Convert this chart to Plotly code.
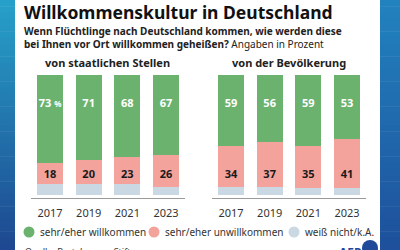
import plotly.graph_objects as go

W, H = 400, 250
years = ["2017", "2019", "2021", "2023"]
staat_willk = [73, 71, 68, 67]
staat_unwillk = [18, 20, 23, 26]
staat_wn = [9, 9, 9, 7]
bev_willk = [59, 56, 59, 53]
bev_unwillk = [34, 37, 35, 41]
bev_wn = [7, 7, 6, 6]
series_names = ["sehr/eher willkommen", "sehr/eher unwillkommen", "weiß nicht/k.A."]
panel_titles = ["von staatlichen Stellen", "von der Bevölkerung"]

GREEN = "#6bb26f"
RED = "#f4a39c"
GREY = "#cad8e3"
FONT = "Noto Sans"

def px(x):
    return x / W

def py(y):
    return 1 - y / H

fig = go.Figure()

panels = [
    ("x", "y", staat_willk, staat_unwillk, staat_wn, True),
    ("x2", "y2", bev_willk, bev_unwillk, bev_wn, False),
]
for xa, ya, willk, unw, wn, first in panels:
    for vals, col in [(wn, GREY), (unw, RED), (willk, GREEN)]:
        fig.add_trace(go.Bar(x=years, y=vals, marker=dict(color=col, line=dict(width=0)),
                             xaxis=xa, yaxis=ya, showlegend=False, hoverinfo="skip"))
    gtext = [str(v) for v in willk]
    if first:
        gtext[0] = f"{willk[0]} <span style='font-size:8px'>%</span>"
    fig.add_trace(go.Scatter(x=years, y=[75.8] * 4, mode="text", text=gtext,
                             textfont=dict(family=FONT, size=11, color="white", weight="bold"),
                             xaxis=xa, yaxis=ya, showlegend=False, hoverinfo="skip"))
    fig.add_trace(go.Scatter(x=years, y=[16.7] * 4, mode="text", text=[str(v) for v in unw],
                             textfont=dict(family=FONT, size=11, color="#1a1a1a", weight="bold"),
                             xaxis=xa, yaxis=ya, showlegend=False, hoverinfo="skip"))

ydom = [py(198), py(75)]
common_x = dict(type="category", range=[-0.5, 3.5], showgrid=False, zeroline=False,
                showline=True, linecolor="#9a9a9a", linewidth=1, ticks="",
                tickfont=dict(family=FONT, size=11, color="#333333"), ticklabelstandoff=5)
common_y = dict(range=[-2.5, 100], domain=ydom, showgrid=False, zeroline=False,
                showticklabels=False, showline=False)

fig.update_layout(
    width=W, height=H, margin=dict(l=0, r=0, t=0, b=0),
    paper_bgcolor="white", plot_bgcolor="rgba(0,0,0,0)",
    barmode="stack", bargap=0.33, showlegend=False,
    xaxis=dict(domain=[px(30.7), px(185.3)], anchor="y", **common_x),
    xaxis2=dict(domain=[px(211.7), px(366.3)], anchor="y2", **common_x),
    yaxis=dict(anchor="x", **common_y),
    yaxis2=dict(anchor="x2", **common_y),
)

shapes = []
# gradient side borders
n = 40
def lerp(c1, c2, t):
    return "rgb(%d,%d,%d)" % tuple(round(a + (b - a) * t) for a, b in zip(c1, c2))
top_c = (38, 160, 200)
bot_c = (30, 72, 145)
for i in range(n):
    t = i / (n - 1)
    y0 = i * H / n
    y1 = (i + 1) * H / n + 0.5
    col = lerp(top_c, bot_c, t)
    shapes.append(dict(type="rect", xref="paper", yref="paper", x0=px(0), x1=px(15),
                       y0=py(y1), y1=py(y0), fillcolor=col, line=dict(width=0), layer="below"))
    col2 = lerp((34, 130, 190), (30, 80, 155), t)
    shapes.append(dict(type="rect", xref="paper", yref="paper", x0=px(380), x1=px(400),
                       y0=py(y1), y1=py(y0), fillcolor=col2, line=dict(width=0), layer="below"))

# legend markers
leg_x = [29, 154, 294]
leg_text_x = [38, 163, 303]
leg_cols = [GREEN, RED, GREY]
ly = 232
annotations = []
for cx, tx, col, name in zip(leg_x, leg_text_x, leg_cols, series_names):
    r = 5.5
    shapes.append(dict(type="circle", xref="paper", yref="paper", x0=px(cx - r), x1=px(cx + r),
                       y0=py(ly + r), y1=py(ly - r), fillcolor=col, line=dict(width=0)))
    annotations.append(dict(text=name, x=px(tx), y=py(ly), xref="paper", yref="paper",
                            xanchor="left", yanchor="middle", showarrow=False,
                            font=dict(family=FONT, size=10, color="#333333")))

annotations += [
    dict(text="<b>Willkommenskultur in Deutschland</b>", x=px(22), y=py(12), xref="paper", yref="paper",
         xanchor="left", yanchor="middle", showarrow=False,
         font=dict(family=FONT, size=17.5, color="#111111")),
    dict(text="<b>Wenn Flüchtlinge nach Deutschland kommen, wie werden diese</b>", x=px(22), y=py(31),
         xref="paper", yref="paper", xanchor="left", yanchor="middle", showarrow=False,
         font=dict(family=FONT, size=10, color="#222222")),
    dict(text="<b>bei Ihnen vor Ort willkommen geheißen?</b> Angaben in Prozent", x=px(22), y=py(44),
         xref="paper", yref="paper", xanchor="left", yanchor="middle", showarrow=False,
         font=dict(family=FONT, size=10, color="#222222")),
    dict(text="<b>" + panel_titles[0] + "</b>", x=px(107), y=py(62), xref="paper", yref="paper",
         xanchor="center", yanchor="middle", showarrow=False,
         font=dict(family=FONT, size=11, color="#222222")),
    dict(text="<b>" + panel_titles[1] + "</b>", x=px(289), y=py(62), xref="paper", yref="paper",
         xanchor="center", yanchor="middle", showarrow=False,
         font=dict(family=FONT, size=11, color="#222222")),
    dict(text="Quelle: Bertelsmann Stiftung", x=px(23), y=py(243), xref="paper", yref="paper",
         xanchor="left", yanchor="top", showarrow=False,
         font=dict(family=FONT, size=9, color="#333333")),
    dict(text="<b>AFP</b>", x=px(363), y=py(242), xref="paper", yref="paper",
         xanchor="right", yanchor="top", showarrow=False,
         font=dict(family=FONT, size=12, color="#1f4a99")),
]
shapes.append(dict(type="circle", xref="paper", yref="paper", x0=px(362), x1=px(378),
                   y0=py(256), y1=py(240), fillcolor="#1f4a99", line=dict(width=0)))

fig.update_layout(shapes=shapes, annotations=annotations)
fig.write_html("out.html")
